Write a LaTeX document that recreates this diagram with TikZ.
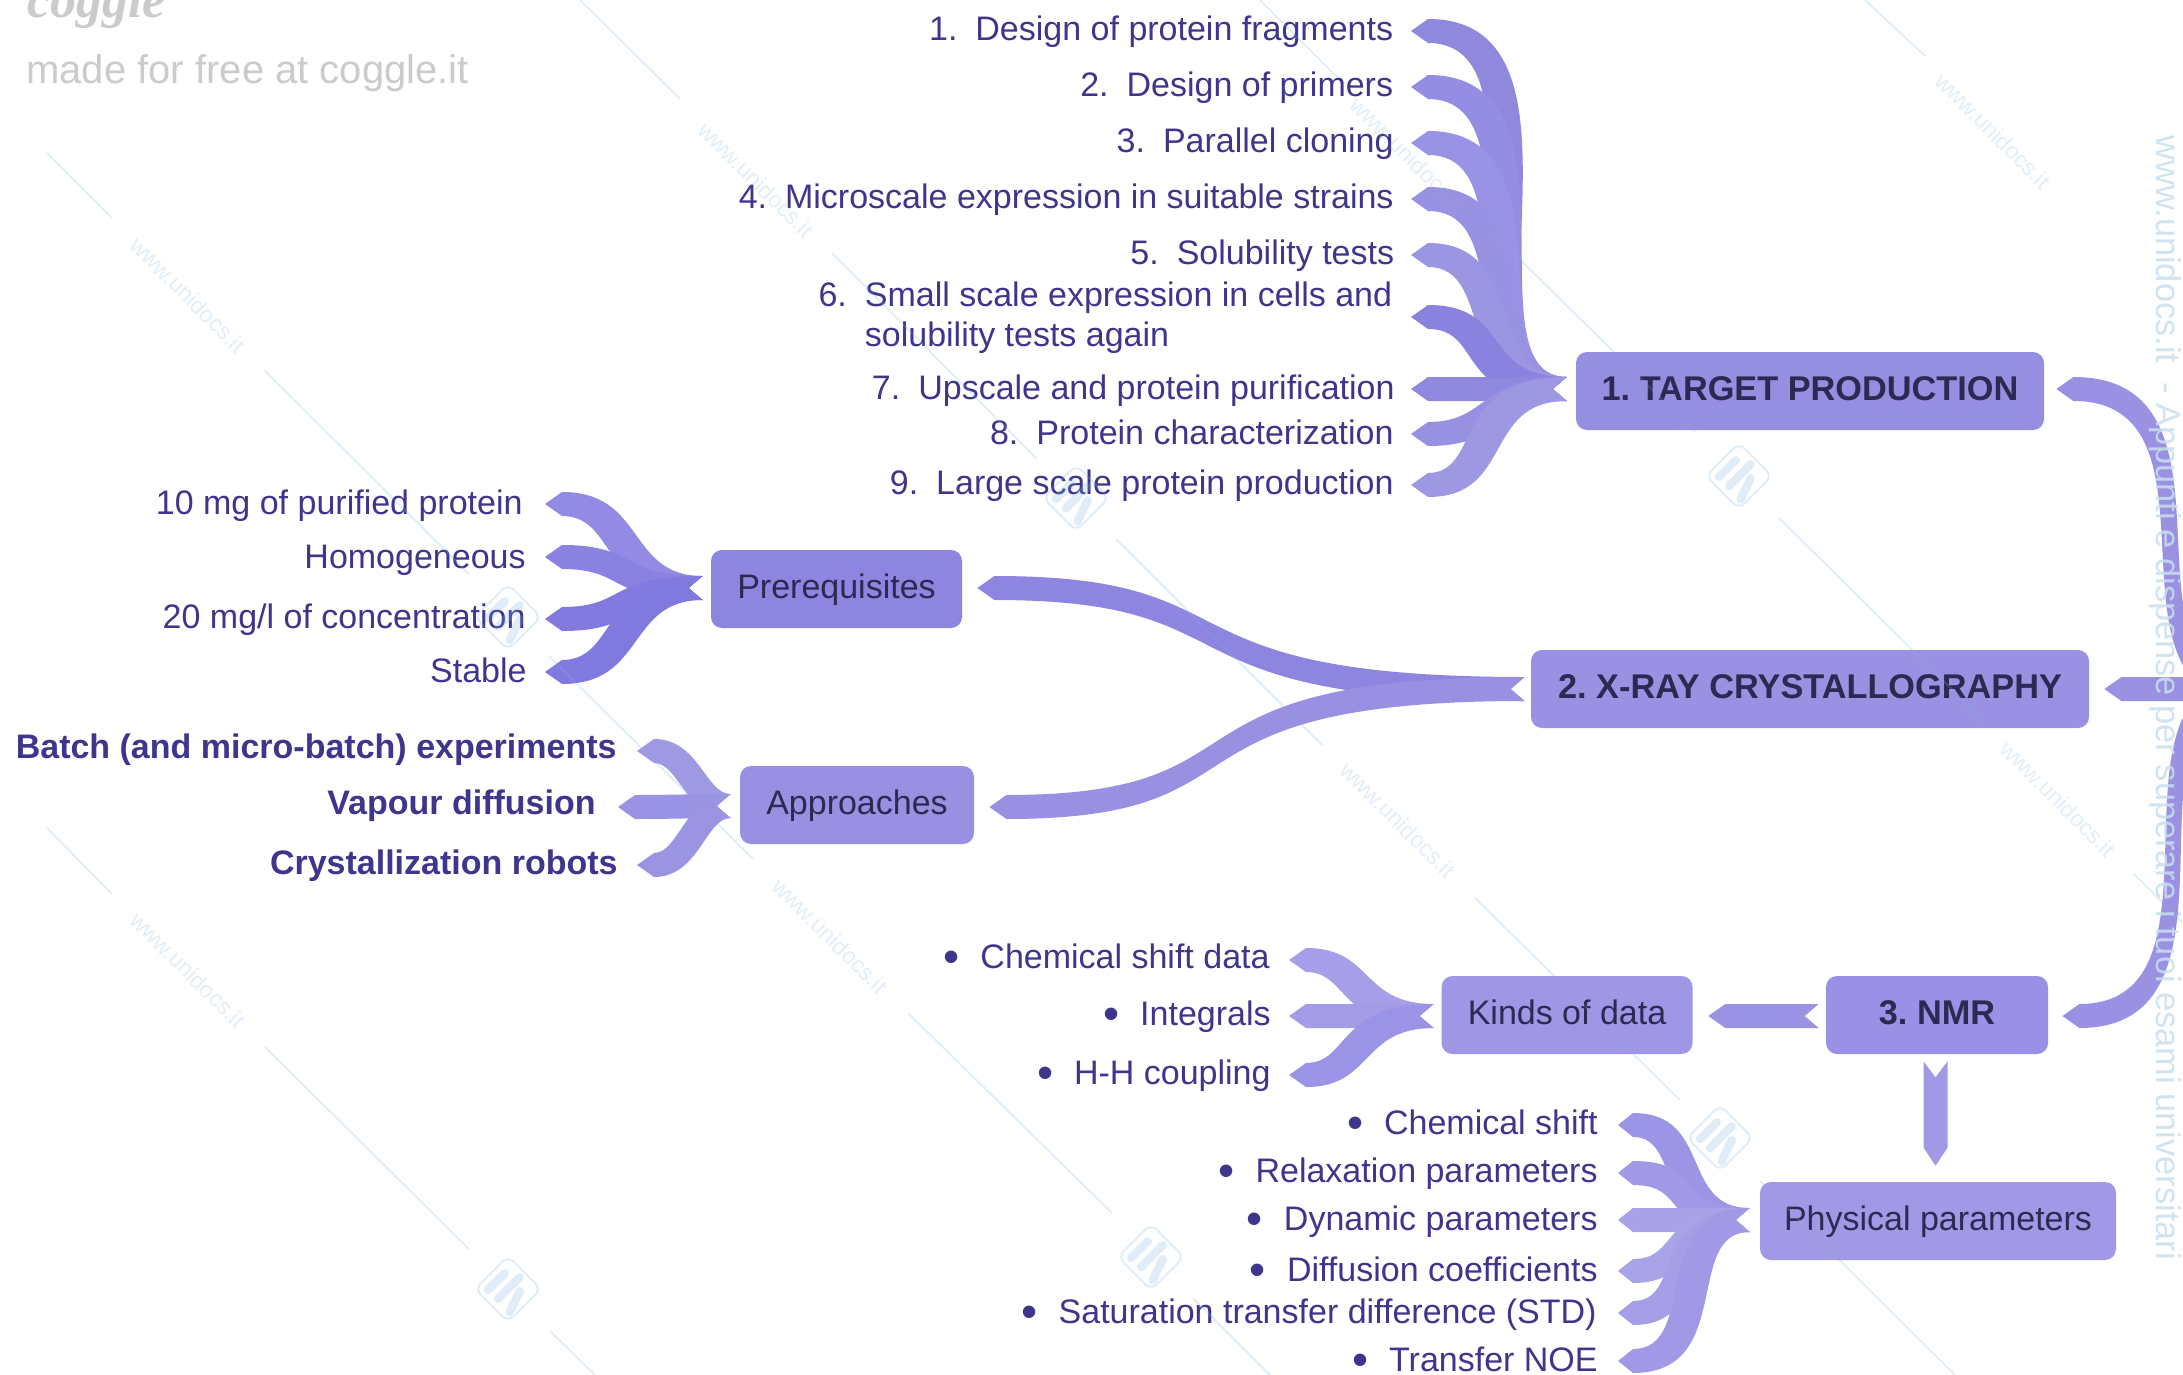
\documentclass[tikz,border=0pt]{standalone}
\usepackage{graphicx}
\usepackage{fontspec}
\setmainfont{Liberation Sans}
\newfontfamily\logofont{Liberation Serif}
\usetikzlibrary{calc}
\frenchspacing
\definecolor{lblc}{HTML}{3F358C}
\definecolor{boxt}{HTML}{2C2A52}
\definecolor{wm}{HTML}{7FB2E0}
\definecolor{wmtext}{HTML}{C8DFEF}
\definecolor{greyc}{HTML}{CBCBCB}
\definecolor{ca}{HTML}{8F88DD}
\definecolor{cb}{HTML}{958DE3}
\definecolor{cc}{HTML}{9A92E4}
\definecolor{cd}{HTML}{9991E2}
\definecolor{ce}{HTML}{9C96E2}
\definecolor{cf}{HTML}{8A82DF}
\definecolor{cg}{HTML}{9088DF}
\definecolor{ch}{HTML}{9890E0}
\definecolor{ci}{HTML}{9E98E2}
\definecolor{pa}{HTML}{938BE3}
\definecolor{pb}{HTML}{8A81E0}
\definecolor{pc}{HTML}{837ADF}
\definecolor{pd}{HTML}{817ADE}
\definecolor{pbox}{HTML}{8D85E0}
\definecolor{qa}{HTML}{9F99E4}
\definecolor{qb}{HTML}{9A92E2}
\definecolor{qc}{HTML}{9B94E3}
\definecolor{tbox}{HTML}{968EE0}
\definecolor{abox}{HTML}{9990E2}
\definecolor{xbox}{HTML}{9A91E2}
\definecolor{nbox}{HTML}{9A91E6}
\definecolor{ka}{HTML}{A69EE8}
\definecolor{kb}{HTML}{A49CE6}
\definecolor{kc}{HTML}{9B93E6}
\definecolor{kbox}{HTML}{9F97E6}
\definecolor{fa}{HTML}{9C94E5}
\definecolor{fb}{HTML}{A299E6}
\definecolor{fc}{HTML}{A9A2E8}
\definecolor{fd}{HTML}{A9A3E8}
\definecolor{fe}{HTML}{A69FE7}
\definecolor{ff}{HTML}{A299E6}
\definecolor{fbox}{HTML}{A199E6}
\tikzset{
  lbl/.style={anchor=base east,inner sep=0pt,text=lblc,font=\fontsize{17}{20}\selectfont},
  blbl/.style={lbl,font=\fontsize{17}{20}\selectfont\bfseries},
  boxn/.style={rounded corners=5.5pt,inner sep=0pt,minimum height=39pt,text=boxt,text height=13pt,text depth=4pt,font=\fontsize{17}{20}\selectfont},
  boxb/.style={boxn,font=\fontsize{17.15}{20}\selectfont\bfseries},
  wml/.style={draw=wm,line width=1pt,opacity=.22},
  wmt/.style={text=wm,opacity=.22,rotate=-45,inner sep=0pt,font=\fontsize{11.5}{14}\selectfont},
}
\def\ribL{17}\def\ribH{12}\def\ribN{14}
% colour, tip, join, a, b, d
\newcommand{\rib}[6]{%
  \fill[#1] (#2) -- ($(#2)+(\ribL,-\ribH)$)
    .. controls ($(#2)+({\ribL+#4+(#6)},-\ribH)$) and ($(#3)+({-(#5)+(#6)},-\ribH)$) .. ($(#3)+(0,-\ribH)$)
    -- ($(#3)+(-\ribN,0)$) -- ($(#3)+(0,\ribH)$)
    .. controls ($(#3)+({-(#5)-(#6)},\ribH)$) and ($(#2)+({\ribL+#4-(#6)},\ribH)$) .. ($(#2)+(\ribL,\ribH)$)
    -- cycle;}
\newcommand{\wmlogo}[1]{%
  \begin{scope}[shift={(#1)},opacity=.24]
    \draw[wm,line width=1pt,rounded corners=4pt] (0,-33) -- (33,0) -- (0,33) -- (-33,0) -- cycle;
    \draw[wm,line width=4.2pt,line cap=round] (-3.3,-15.7) -- (-20,1);
    \draw[wm,line width=4.2pt,line cap=round] (11.7,-11.7) -- (-10,10);
    \draw[wm,line width=4.2pt,line cap=round] (11.7,2.3) -- (1.7,23.3);
  \end{scope}}
\newcommand{\blt}{\raisebox{-2.2pt}{\scalebox{1.35}{\textbullet}}\hspace{10.5pt}}
\begin{document}
\begin{tikzpicture}[x=0.5pt,y=-0.5pt]
\useasboundingbox (0,0) rectangle (2183,1375);
\clip (0,0) rectangle (2183,1375);
\fill[white] (0,0) rectangle (2183,1375);

% boxes
\node[boxb,fill=tbox,minimum width=234pt] (tp) at (1810,391) {1. TARGET PRODUCTION};
\node[boxb,fill=xbox,minimum width=279pt] (xr) at (1810,689) {2. X-RAY CRYSTALLOGRAPHY};
\node[boxb,fill=nbox,minimum width=111pt] (nmr) at (1937,1015) {3. NMR};
\node[boxn,fill=pbox,minimum width=125.5pt] (pre) at (836.5,589) {Prerequisites};
\node[boxn,fill=abox,minimum width=117pt] (app) at (857,805) {Approaches};
\node[boxn,fill=kbox,minimum width=125.5pt] (kin) at (1567,1015) {Kinds of data};
\node[boxn,fill=fbox,minimum width=178pt] (phy) at (1938,1221) {Physical parameters};

% join points
\coordinate (j1) at ($(tp.west)+(-9,-2)$);
\coordinate (j2) at ($(xr.west)+(-6,0)$);
\coordinate (j3) at ($(pre.west)+(-8,-1)$);
\coordinate (j4) at ($(app.west)+(-9,1)$);
\coordinate (j5) at ($(kin.west)+(-7.5,1)$);
\coordinate (j6) at ($(phy.west)+(-10,-1)$);
\coordinate (j7) at ($(nmr.west)+(-7,1)$);
\coordinate (root) at (2250,689);

% leaf tips
\foreach \n/\y in {a/31,b/87,c/143,d/199,e/255,f/317,g/389,h/434,i/485}{\coordinate (t\n) at (1411,\y);}
\foreach \n/\y in {a/504,b/557,c/619,d/672}{\coordinate (p\n) at (545,\y);}
\coordinate (qa) at (637,751); \coordinate (qb) at (618,807); \coordinate (qc) at (637,865);
\foreach \n/\y in {a/960,b/1016,c/1075}{\coordinate (k\n) at (1289,\y);}
\foreach \n/\y in {a/1125,b/1173,c/1220,d/1271,e/1313,f/1361}{\coordinate (f\n) at (1618,\y);}

% ribbons
\rib{ca}{ta}{j1}{158}{137}{23}
\rib{cb}{tb}{j1}{142}{122}{22}
\rib{cc}{tc}{j1}{126}{112}{21}
\rib{cd}{td}{j1}{110}{102}{18}
\rib{ce}{te}{j1}{85}{100}{16}
\rib{cf}{tf}{j1}{70}{100}{14}
\rib{cg}{tg}{j1}{50}{50}{0}
\rib{ch}{th}{j1}{70}{80}{-9}
\rib{ci}{ti}{j1}{70}{100}{-16}

\rib{pa}{pa}{j3}{70}{90}{14}
\rib{pb}{pb}{j3}{70}{90}{6}
\rib{pc}{pc}{j3}{70}{90}{-6}
\rib{pd}{pd}{j3}{70}{90}{-14}

\rib{qa}{qa}{j4}{35}{35}{10}
\rib{qb}{qb}{j4}{35}{35}{0}
\rib{qc}{qc}{j4}{35}{35}{-10}

\rib{ka}{ka}{j5}{55}{85}{12}
\rib{kb}{kb}{j5}{50}{50}{0}
\rib{kc}{kc}{j5}{55}{85}{-12}

\def\ribL{15}
\rib{fa}{fa}{j6}{65}{85}{15}
\rib{fb}{fb}{j6}{65}{85}{8}
\rib{fc}{fc}{j6}{50}{50}{0}
\rib{fd}{fd}{j6}{55}{85}{-8}
\rib{fe}{fe}{j6}{65}{90}{-13}
\rib{ff}{ff}{j6}{85}{85}{-18}
\def\ribL{17}

% box to box
\coordinate (c1) at ($(pre.east)+(15,-1)$);
\coordinate (c2) at ($(app.east)+(15,2)$);
\rib{pbox}{c1}{j2}{270}{380}{0}
\rib{abox}{c2}{j2}{275}{383}{0}
\coordinate (c3) at ($(tp.east)+(12,-2)$);
\coordinate (c4) at ($(xr.east)+(15,0)$);
\coordinate (c5) at ($(nmr.east)+(14,1)$);
\rib{xbox}{c3}{root}{172}{150}{10}
\rib{xbox}{c4}{root}{40}{40}{0}
\rib{xbox}{c5}{root}{172}{150}{-10}
\coordinate (c6) at ($(kin.east)+(15.4,1)$);
\rib{qb}{c6}{j7}{30}{30}{0}
\coordinate (v0) at ($(nmr.south)+(-1.5,7)$);
\coordinate (v1) at ($(phy.north)+(-2.5,-16)$);
\fill[fb] ($(v0)+(-12,0)$) -- ($(v0)+(0,16)$) -- ($(v0)+(12,0)$) -- ($(v1)+(12,-18)$) -- (v1) -- ($(v1)+(-12,-18)$) -- cycle;

% labels
\node[lbl] (l1) at (1393.5,41) {1.\hspace{9pt}Design of protein fragments};
\node[lbl] (l2) at (1393.5,97) {2.\hspace{9pt}Design of primers};
\node[lbl] (l3) at (1394,153) {3.\hspace{9pt}Parallel cloning};
\node[lbl] (l4) at (1394,209) {4.\hspace{9pt}Microscale expression in suitable strains};
\node[lbl] (l5) at (1394.5,264) {5.\hspace{9pt}Solubility tests};
\node[lbl,anchor=east,align=left] (l6) at (1392.5,318) {6.\hspace{9pt}Small scale expression in cells and\\\hspace*{23.2pt}solubility tests again};
\node[lbl] (l7) at (1395,399) {7.\hspace{9pt}Upscale and protein purification};
\node[lbl] (l8) at (1394,444) {8.\hspace{9pt}Protein characterization};
\node[lbl] (l9) at (1394,494) {9.\hspace{9pt}Large scale protein production};

\node[lbl] (m1) at (523,514) {10 mg of purified protein};
\node[lbl] (m2) at (526,568) {Homogeneous};
\node[lbl] (m3) at (526,628) {20 mg/l of concentration};
\node[lbl] (m4) at (527,682) {Stable};

\node[blbl] (b1) at (617,758) {Batch (and micro-batch) experiments};
\node[blbl] (b2) at (596,814) {Vapour diffusion};
\node[blbl] (b3) at (618,874) {Crystallization robots};

\node[lbl] (n1) at (1270,968) {\blt Chemical shift data};
\node[lbl] (n2) at (1271,1025) {\blt Integrals};
\node[lbl] (n3) at (1271,1084) {\blt H-H coupling};

\node[lbl] (r1) at (1598,1134) {\blt Chemical shift};
\node[lbl] (r2) at (1598,1182) {\blt Relaxation parameters};
\node[lbl] (r3) at (1598,1230) {\blt Dynamic parameters};
\node[lbl] (r4) at (1598,1281) {\blt Diffusion coefficients};
\node[lbl] (r5) at (1597,1323) {\blt Saturation transfer difference (STD)};
\node[lbl] (r6) at (1598,1371) {\blt Transfer NOE};

% logo text
\node[anchor=base west,inner sep=0pt,text=greyc,font=\logofont\fontsize{26}{30}\selectfont\bfseries\itshape] (lg) at (27,18) {coggle};
\node[anchor=base west,inner sep=0pt,text=greyc,font=\fontsize{20}{24}\selectfont] (mf) at (26,84) {made for free at coggle.it};

% watermark
\foreach \a/\b/\c/\d in {580/0/680/99,47/153/112/218,265/371/469/574,549/656/753/859,908/1013/1112/1213,1193/1298/1270/1375,832/253/1037/459,1116/539/1322/745,1475/898/1680/1100,1760/1181/1955/1375,1260/0/1337/77,1493/233/1695/432,1779/518/1984/721,2134/874/2183/923,1865/0/1925/56,47/828/112/894,265/1047/469/1249,550/1331/595/1375}{
  \draw[wml] (\a,\b) -- (\c,\d);}
\foreach \a/\b in {188/295,756/180,830/936,1398/820,2058/799,1408/155,1993/131,188/970}{
  \node[wmt] at (\a,\b) {www.unidocs.it};}
\foreach \p in {{1076,498},{1739,476},{508,617},{1151,1257},{1720,1138},{508,1289}}{
  \wmlogo{\p}}
\node[inner sep=0pt,rotate=-90,text=wmtext,opacity=.85,font=\fontsize{17.2}{20}\selectfont] (side) at (2165,698) {www.unidocs.it\ \ - Appunti e dispense per superare i tuoi esami universitari};
\end{tikzpicture}
\end{document}
